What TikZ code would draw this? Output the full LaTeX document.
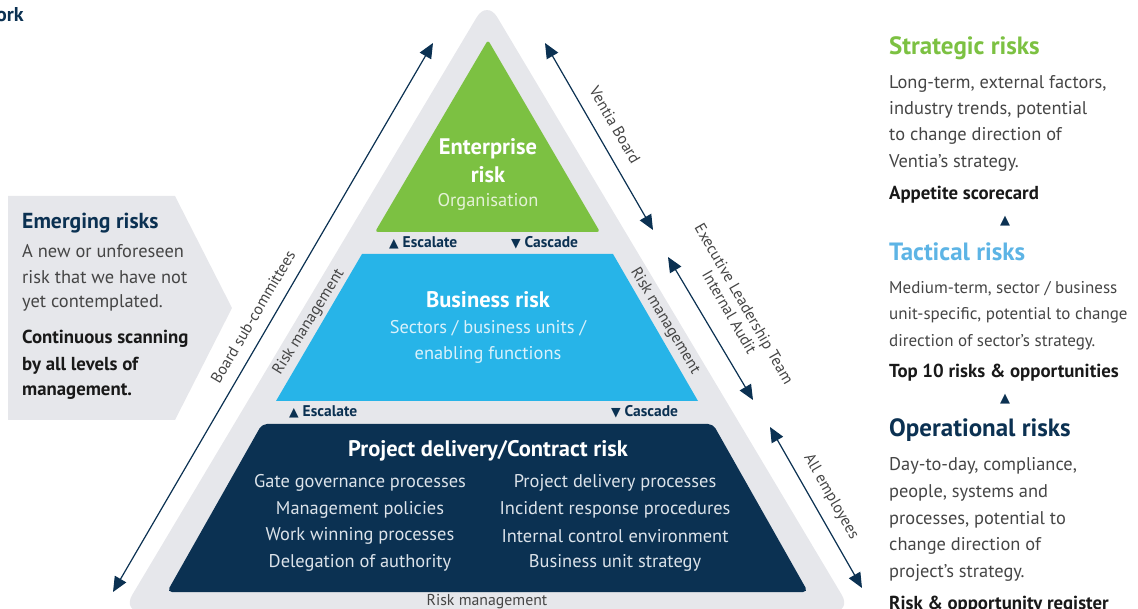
\documentclass[tikz,border=0pt]{standalone}
\usepackage{fontspec}
\setmainfont{PT Sans}
\newfontfamily\sym{DejaVu Sans}
\usetikzlibrary{arrows.meta}
\definecolor{bandgray}{HTML}{E6E7EB}
\definecolor{entgreen}{HTML}{7CC142}
\definecolor{busblue}{HTML}{27B4E8}
\definecolor{navy}{HTML}{0B3152}
\definecolor{txtgray}{HTML}{454545}
\definecolor{tacblue}{HTML}{5DB4E5}
\definecolor{lightgreen}{HTML}{E4F2D6}
\definecolor{lightblue}{HTML}{D9F1FB}
\definecolor{lightnavy}{HTML}{DCE3EA}
\tikzset{
  wbold/.style={text=white, font=\fontsize{22.5}{26}\selectfont\bfseries, inner sep=0pt},
  wlight/.style={font=\fontsize{18.4}{21}\selectfont, inner sep=0pt},
  esc/.style={text=navy, font=\fontsize{15.5}{17}\selectfont\bfseries, inner sep=0pt},
  rlab/.style={text=txtgray, font=\fontsize{15.8}{17}\selectfont, inner sep=0pt, align=center},
  body/.style={text=txtgray, font=\fontsize{18.4}{21}\selectfont, inner sep=0pt, anchor=west},
  narrowbody/.style={body, font=\fontsize{17}{20}\selectfont},
  boldline/.style={text=black!90, font=\fontsize{18.8}{21}\selectfont\bfseries, inner sep=0pt, anchor=west},
  head/.style={font=\fontsize{25}{28}\selectfont\bfseries, inner sep=0pt, anchor=west},
  dblarrow/.style={navy, line width=1.2pt, {Triangle[length=15pt,width=13pt]}-{Triangle[length=15pt,width=13pt]}},
  upmark/.style={text=navy, font=\fontsize{13}{13}\selectfont\sym, inner sep=0pt}
}
\newcommand{\upt}{{\sym\fontsize{12.5}{12.5}\selectfont ▲}}
\newcommand{\dnt}{{\sym\fontsize{12.5}{12.5}\selectfont ▼}}
\begin{document}
\begin{tikzpicture}[x=1pt,y=-1pt]
\useasboundingbox (0,0) rectangle (1138,609);
% title fragment
\node[anchor=west, text=navy, font=\fontsize{20}{22}\selectfont\bfseries, inner sep=0pt] (title) at (-4,15) {ork};

% outer gray triangle
\fill[bandgray, rounded corners=20pt] (487,0) -- (852,612) -- (122,612) -- cycle;
% enterprise
\fill[entgreen, rounded corners=3pt] (488,40) -- (600,232) -- (375,232) -- cycle;
% business
\fill[busblue] (362,254) -- (613,254) -- (698,401) -- (276,401) -- cycle;
% project
\fill[navy, rounded corners=5pt] (262,424) -- (713,424) -- (808,592) -- (167,592) -- cycle;

% enterprise text
\node[wbold] (ent1) at (488,149) {Enterprise};
\node[wbold] (ent2) at (488,175) {risk};
\node[wlight, text=lightgreen] (ent3) at (488,202) {Organisation};

\node[esc, anchor=west] (esc1) at (389,243) {\upt\ Escalate};
\node[esc, anchor=west] (cas1) at (511,243) {\dnt\ Cascade};

% business text
\node[wbold] (bus1) at (488,300) {Business risk};
\node[wlight, text=lightblue] (bus2) at (488,328) {Sectors / business units /};
\node[wlight, text=lightblue] (bus3) at (488,355) {enabling functions};

\node[esc, anchor=west] (esc2) at (289,412) {\upt\ Escalate};
\node[esc, anchor=west] (cas2) at (611,412) {\dnt\ Cascade};

% project text
\node[wbold] (pro1) at (488,451) {Project delivery/Contract risk};
\node[wlight, text=lightnavy] (pl1) at (360,483) {Gate governance processes};
\node[wlight, text=lightnavy] (pl2) at (360,510) {Management policies};
\node[wlight, text=lightnavy] (pl3) at (360,536) {Work winning processes};
\node[wlight, text=lightnavy] (pl4) at (360,563) {Delegation of authority};
\node[wlight, text=lightnavy] (pr1) at (615,483) {Project delivery processes};
\node[wlight, text=lightnavy] (pr2) at (615,510) {Incident response procedures};
\node[wlight, text=lightnavy] (pr3) at (615,536) {Internal control environment};
\node[wlight, text=lightnavy] (pr4) at (615,563) {Business unit strategy};

% risk management labels in band
\node[rlab] (rmb) at (487,602) {Risk management};
\node[rlab, rotate=58] (rml) at (309,322) {Risk management};
\node[rlab, rotate=-59] (rmr) at (665,321) {Risk management};

% arrows
\coordinate (a1t) at (433,43);
\coordinate (a1b) at (113,592);
\draw[dblarrow] (a1t) -- (a1b);
\node[rlab, rotate=59.5] (lab1) at (253,317) {Board sub-committees};

\coordinate (a2t) at (545,43);
\coordinate (a2b) at (653,230);
\draw[dblarrow] (a2t) -- (a2b);
\node[rlab, rotate=-60] (lab2) at (615,125) {Ventia Board};

\coordinate (a3t) at (668,257);
\coordinate (a3b) at (753,400);
\draw[dblarrow] (a3t) -- (a3b);
\node[rlab, rotate=-60] (lab3) at (737,308) {Executive Leadership Team\\Internal Audit};

\coordinate (a4t) at (770,427);
\coordinate (a4b) at (862,588);
\draw[dblarrow] (a4t) -- (a4b);
\node[rlab, rotate=-60] (lab4) at (831,497) {All employees};

% emerging risks box
\fill[bandgray] (8,196) -- (175,196) -- (232,308) -- (175,420) -- (8,420) -- cycle;
\node[head, text=navy, font=\fontsize{21.7}{24}\selectfont\bfseries] (em0) at (22,223) {Emerging risks};
\node[body] (em1) at (22,251) {A new or unforeseen};
\node[body] (em2) at (22,277) {risk that we have not};
\node[body] (em3) at (22,303) {yet contemplated.};
\node[boldline] (em4) at (22,339) {Continuous scanning};
\node[boldline] (em5) at (22,366) {by all levels of};
\node[boldline] (em6) at (22,392) {management.};

% right column
\node[head, text=entgreen] (st0) at (889,48) {Strategic risks};
\node[body] (st1) at (889,84) {Long-term, external factors,};
\node[body] (st2) at (889,110) {industry trends, potential};
\node[body] (st3) at (889,136) {to change direction of};
\node[body] (st4) at (889,163) {Ventia’s strategy.};
\node[boldline] (st5) at (889,195) {Appetite scorecard};
\node[upmark] (up1) at (1005,221) {▲};

\node[head, text=tacblue] (ta0) at (889,252) {Tactical risks};
\node[narrowbody] (ta1) at (889,289) {Medium-term, sector / business};
\node[narrowbody] (ta2) at (889,315) {unit-specific, potential to change};
\node[narrowbody] (ta3) at (889,342) {direction of sector’s strategy.};
\node[boldline] (ta4) at (889,373) {Top 10 risks \& opportunities};
\node[upmark] (up2) at (1005,399) {▲};

\node[head, text=navy] (op0) at (889,430) {Operational risks};
\node[body] (op1) at (889,466) {Day-to-day, compliance,};
\node[body] (op2) at (889,493) {people, systems and};
\node[body] (op3) at (889,520) {processes, potential to};
\node[body] (op4) at (889,546) {change direction of};
\node[body] (op5) at (889,573) {project’s strategy.};
\node[boldline] (op6) at (889,605) {Risk \& opportunity register};
\end{tikzpicture}
\end{document}
